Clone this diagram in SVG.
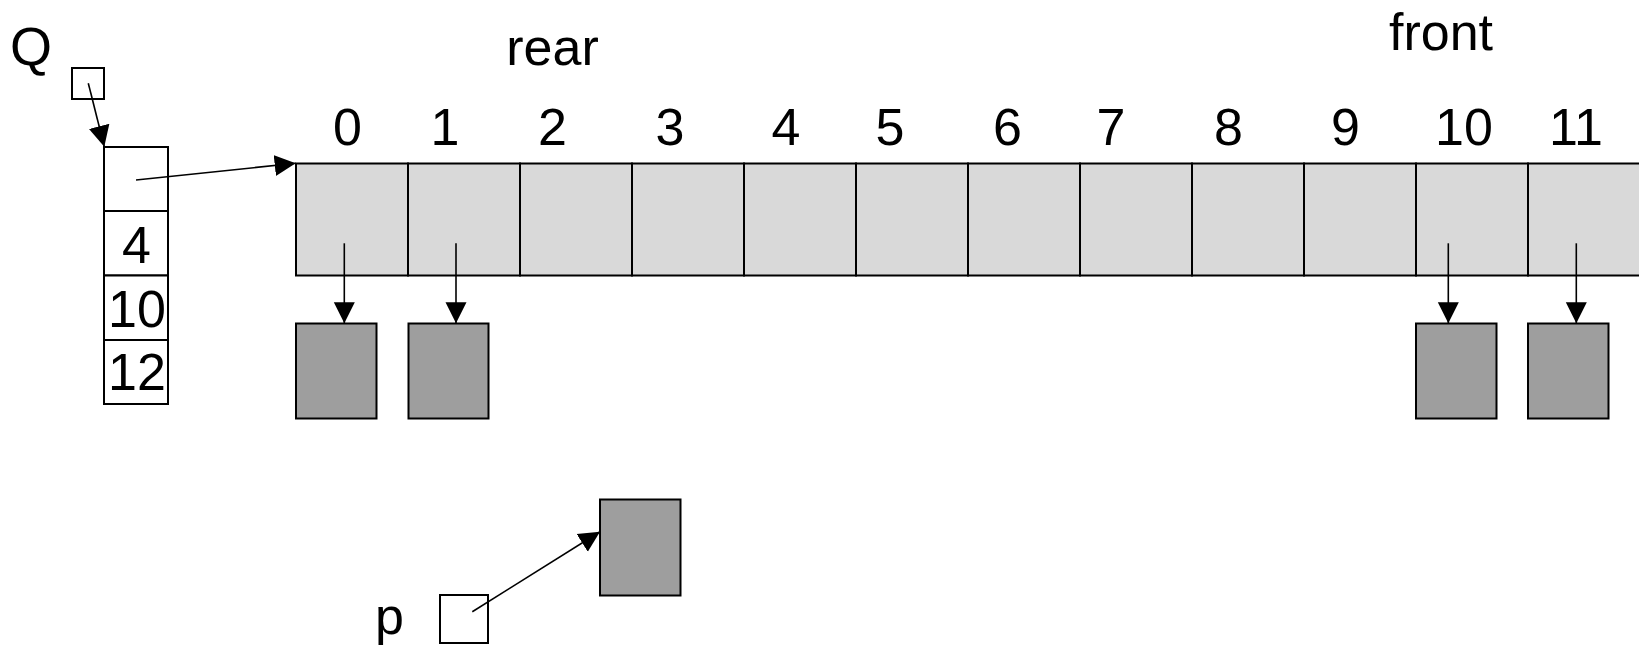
<svg xmlns="http://www.w3.org/2000/svg" width="1639" height="654" viewBox="0 0 1639 654">
<style>
text{font-family:"Liberation Sans",Arial,sans-serif;font-size:52px;fill:#000}
.m{text-anchor:middle}
.w{fill:#fff;stroke:#000;stroke-width:2}
.cell{fill:#d9d9d9;stroke:#000;stroke-width:2}
.dk{fill:#9e9e9e;stroke:#000;stroke-width:2}
.ln{stroke:#000;stroke-width:1.6;fill:none;marker-end:url(#ah)}
</style>
<defs>
<marker id="ah" markerUnits="userSpaceOnUse" markerWidth="22" markerHeight="22" refX="21" refY="11" orient="auto">
<path d="M0,0.5 L21,11 L0,21.5 Z" fill="#000"/>
</marker>
</defs>
<rect width="1639" height="654" fill="#fff"/>
<g id="Q">
<text x="10" y="65" style="font-size:54px">Q</text>
<rect class="w" x="72" y="68" width="32" height="31"/>
</g>
<g id="qstruct">
<rect class="w" x="104" y="147" width="64" height="64"/>
<rect class="w" x="104" y="211" width="64" height="64.5"/>
<rect class="w" x="104" y="275.5" width="64" height="64.5"/>
<rect class="w" x="104" y="340" width="64" height="64"/>
<text class="m" x="136.5" y="263">4</text>
<text class="m" x="137" y="327">10</text>
<text class="m" x="137" y="390">12</text>
</g>
<g id="labels">
<text class="m" x="552.5" y="65">rear</text>
<text class="m" x="1441" y="50">front</text>
</g>
<g id="array">
<rect class="cell" x="296" y="163.5" width="112" height="112"/>
<rect class="cell" x="408" y="163.5" width="112" height="112"/>
<rect class="cell" x="520" y="163.5" width="112" height="112"/>
<rect class="cell" x="632" y="163.5" width="112" height="112"/>
<rect class="cell" x="744" y="163.5" width="112" height="112"/>
<rect class="cell" x="856" y="163.5" width="112" height="112"/>
<rect class="cell" x="968" y="163.5" width="112" height="112"/>
<rect class="cell" x="1080" y="163.5" width="112" height="112"/>
<rect class="cell" x="1192" y="163.5" width="112" height="112"/>
<rect class="cell" x="1304" y="163.5" width="112" height="112"/>
<rect class="cell" x="1416" y="163.5" width="112" height="112"/>
<rect class="cell" x="1528" y="163.5" width="113" height="112"/>
<text class="m" x="347.5" y="145">0</text>
<text class="m" x="445" y="145">1</text>
<text class="m" x="552.5" y="145">2</text>
<text class="m" x="670" y="145">3</text>
<text class="m" x="786" y="145">4</text>
<text class="m" x="890" y="145">5</text>
<text class="m" x="1007.5" y="145">6</text>
<text class="m" x="1111" y="145">7</text>
<text class="m" x="1228.5" y="145">8</text>
<text class="m" x="1345.5" y="145">9</text>
<text class="m" x="1464" y="145">10</text>
<text class="m" x="1576" y="145">11</text>
</g>
<g id="elem0"><rect class="dk" x="296" y="323.5" width="80.5" height="95"/></g>
<g id="elem1"><rect class="dk" x="408.5" y="323.5" width="80" height="95"/></g>
<g id="elem10"><rect class="dk" x="1416" y="323.5" width="80.5" height="95"/></g>
<g id="elem11"><rect class="dk" x="1528" y="323.5" width="80.5" height="95"/></g>
<g id="pnode"><rect class="dk" x="600" y="499.5" width="80.5" height="96"/></g>
<g id="p">
<text x="375" y="634">p</text>
<rect class="w" x="440" y="595" width="48" height="48"/>
</g>
<g id="connectors">
<line class="ln" x1="88.3" y1="83.3" x2="104.3" y2="146.7"/>
<line class="ln" x1="136" y1="180" x2="295.7" y2="163.3"/>
<line class="ln" x1="344.3" y1="243.3" x2="344.3" y2="323.3"/>
<line class="ln" x1="456" y1="243.3" x2="456" y2="323.3"/>
<line class="ln" x1="1448.3" y1="243.3" x2="1448.3" y2="323.3"/>
<line class="ln" x1="1576.3" y1="243.3" x2="1576.3" y2="323.3"/>
<line class="ln" x1="472.3" y1="611.7" x2="600" y2="531.7"/>
</g>
</svg>
